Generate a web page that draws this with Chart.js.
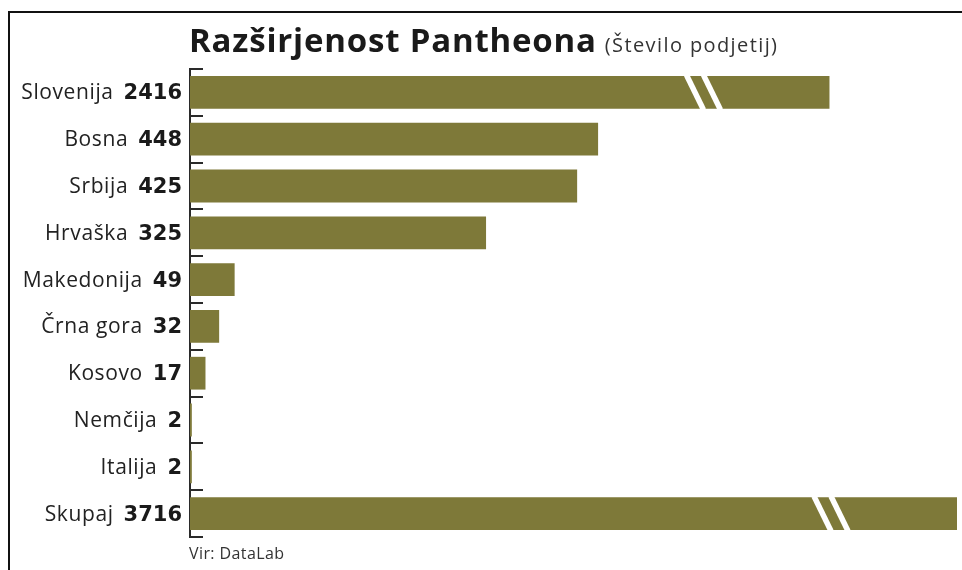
<!DOCTYPE html>
<html>
<head>
<meta charset="utf-8">
<style>
  html, body { margin: 0; padding: 0; background: #ffffff; }
  #wrap { position: relative; width: 962px; height: 570px; }
  canvas { display: block; }
</style>
<script src="https://cdn.jsdelivr.net/npm/chart.js@4/dist/chart.umd.min.js"></script>
</head>
<body>
<div id="wrap"><canvas id="c" width="962" height="570"></canvas></div>
<script>
// ---- data ----
const categories = ['Slovenija', 'Bosna', 'Srbija', 'Hrvaška', 'Makedonija', 'Črna gora', 'Kosovo', 'Nemčija', 'Italija', 'Skupaj'];
const counts = [2416, 448, 425, 325, 49, 32, 17, 2, 2, 3716];
// bars drawn with a broken axis: value shown (in axis units) where the bar is cut
const brokenShown = { 0: 702, 9: 842 };
const axisMax = 842;
const titleText = 'Razširjenost Pantheona';
const subtitleText = '(Število podjetij)';
const sourceText = 'Vir: DataLab';

const drawnCounts = counts.map((v, i) => (brokenShown[i] !== undefined ? brokenShown[i] : v));

const BAR = '#7e7939';
const INK = '#1a1a1a';

const decor = {
  id: 'decor',
  beforeDatasetsDraw(chart) {
    const ctx = chart.ctx;
    const area = chart.chartArea;
    const y = chart.scales.y;
    ctx.save();
    // frame
    ctx.strokeStyle = '#111';
    ctx.lineWidth = 2;
    ctx.beginPath();
    ctx.moveTo(9, 570);
    ctx.lineTo(9, 12);
    ctx.lineTo(962, 12);
    ctx.stroke();
    // axis line
    ctx.strokeStyle = '#2a2a2a';
    ctx.lineWidth = 2;
    ctx.beginPath();
    ctx.moveTo(area.left, area.top);
    ctx.lineTo(area.left, area.bottom);
    ctx.stroke();
    // ticks at category boundaries
    const n = categories.length;
    const step = (y.getPixelForValue(1) - y.getPixelForValue(0));
    ctx.beginPath();
    for (let i = 0; i <= n; i++) {
      const py = Math.round(y.getPixelForValue(i) - step / 2);
      ctx.moveTo(area.left - 1, py);
      ctx.lineTo(area.left + 13, py);
    }
    ctx.stroke();
    ctx.restore();
  },
  afterDatasetsDraw(chart) {
    const ctx = chart.ctx;
    const area = chart.chartArea;
    const meta = chart.getDatasetMeta(0);
    ctx.save();
    // break marks
    ctx.strokeStyle = '#ffffff';
    ctx.lineWidth = 5.5;
    Object.keys(brokenShown).forEach(k => {
      const el = meta.data[+k];
      const top = el.y - el.height / 2 - 1;
      const bot = el.y + el.height / 2 + 1;
      [143, 126].forEach(off => {
        const xt = el.x - off;
        ctx.beginPath();
        ctx.moveTo(xt, top);
        ctx.lineTo(xt + 17, bot);
        ctx.stroke();
      });
    });
    // category labels: name + bold number
    const y = chart.scales.y;
    ctx.textBaseline = 'alphabetic';
    categories.forEach((name, i) => {
      const py = y.getPixelForValue(i) + 7;
      const xr = area.left - 8;
      ctx.letterSpacing = '0px';
      ctx.font = 'bold 21px "DejaVu Sans"';
      ctx.fillStyle = INK;
      ctx.textAlign = 'right';
      const num = String(counts[i]);
      ctx.fillText(num, xr, py);
      const nw = ctx.measureText(num).width;
      ctx.font = '21px "Open Sans"';
      ctx.letterSpacing = '0.6px';
      ctx.fillStyle = '#222';
      ctx.fillText(name, xr - nw - 10, py);
    });
    // title
    ctx.textAlign = 'left';
    ctx.fillStyle = INK;
    ctx.font = 'bold 33px "Open Sans"';
    ctx.letterSpacing = '0.8px';
    ctx.fillText(titleText, 189, 52);
    const tw = ctx.measureText(titleText).width;
    ctx.font = '20px "Open Sans"';
    ctx.letterSpacing = '1.4px';
    ctx.fillStyle = '#333';
    ctx.fillText(subtitleText, 189 + tw + 8, 52);
    // source
    ctx.font = '16px "Open Sans"';
    ctx.letterSpacing = '0.4px';
    ctx.fillStyle = '#333';
    ctx.fillText(sourceText, 189, 559);
    ctx.restore();
  }
};

new Chart(document.getElementById('c'), {
  type: 'bar',
  data: {
    labels: categories,
    datasets: [{
      data: drawnCounts,
      backgroundColor: BAR,
      borderWidth: 0,
      barPercentage: 0.7,
      categoryPercentage: 1.0
    }]
  },
  options: {
    indexAxis: 'y',
    responsive: false,
    animation: false,
    devicePixelRatio: 1,
    layout: { padding: { left: 190, right: 5, top: 69, bottom: 33 } },
    plugins: { legend: { display: false }, tooltip: { enabled: false }, title: { display: false } },
    scales: {
      x: { display: false, min: 0, max: axisMax },
      y: { display: false, offset: true, grid: { offset: true } }
    }
  },
  plugins: [decor]
});
</script>
</body>
</html>
